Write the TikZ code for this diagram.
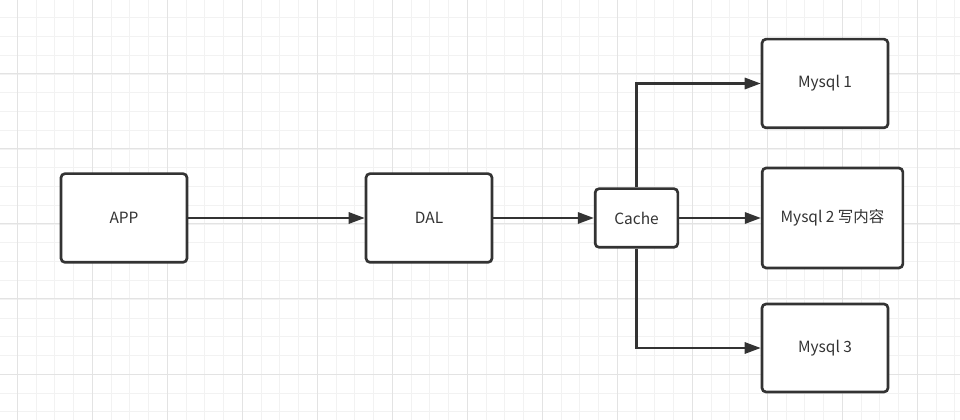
\documentclass[tikz,border=0pt]{standalone}
\usepackage{fontspec}
\setmainfont{Noto Sans CJK SC}
\usetikzlibrary{arrows.meta}

\definecolor{ink}{HTML}{333333}
\definecolor{gridminor}{HTML}{F2F2F2}
\definecolor{gridmajor}{HTML}{E3E3E3}

\tikzset{
  box/.style={draw=ink, line width=2pt, rounded corners=3pt, fill=white,
    inner sep=0pt, text=ink, font=\fontsize{11.6}{13}\selectfont},
  link/.style={draw=ink, line width=1.6pt, -{Triangle[length=12pt,width=8.5pt]}},
}

\begin{document}
\begin{tikzpicture}[x=0.75pt, y=-0.75pt]

\useasboundingbox (0,0) rectangle (960,420);

% Fondo con cuadricula
\begin{scope}
\clip (0,0) rectangle (960,420);
\fill[white] (0,0) rectangle (960,420);
\foreach \k in {0,...,50} \draw[gridminor, line width=0.75pt] (17.3+18.75*\k,0) -- (17.3+18.75*\k,420);
\foreach \k in {1,...,22} \draw[gridminor, line width=0.75pt] (0,-0.75+18.75*\k) -- (960,-0.75+18.75*\k);
\foreach \k in {0,...,12} \draw[gridmajor, line width=0.75pt] (17.3+75*\k,0) -- (17.3+75*\k,420);
\foreach \k in {1,...,5} \draw[gridmajor, line width=0.75pt] (0,-1+75*\k) -- (960,-1+75*\k);
\end{scope}

% Nodos principales
\node[box, minimum width=94.5pt, minimum height=66.5pt] (app) at (124,218) {APP};
\node[box, minimum width=94.5pt, minimum height=66.5pt] (dal) at (429,218) {DAL};
\node[box, minimum width=62pt, minimum height=44pt] (cache) at (636.5,218) {Cache};

% Bases de datos
\node[box, minimum width=94.5pt, minimum height=66.5pt] (m1) at (825,83.5) {Mysql 1};
\node[box, minimum width=105.5pt, minimum height=75pt] (m2) at (832.5,218) {Mysql 2 写内容};
\node[box, minimum width=94.5pt, minimum height=66pt] (m3) at (825,348) {Mysql 3};

% Flechas
\draw[link] (app) -- (dal);
\draw[link] (dal) -- (cache);
\draw[link] (cache) -- (m2);
\draw[link] (cache.north) |- (m1.west);
\draw[link] (cache.south) |- (m3.west);

\end{tikzpicture}
\end{document}
